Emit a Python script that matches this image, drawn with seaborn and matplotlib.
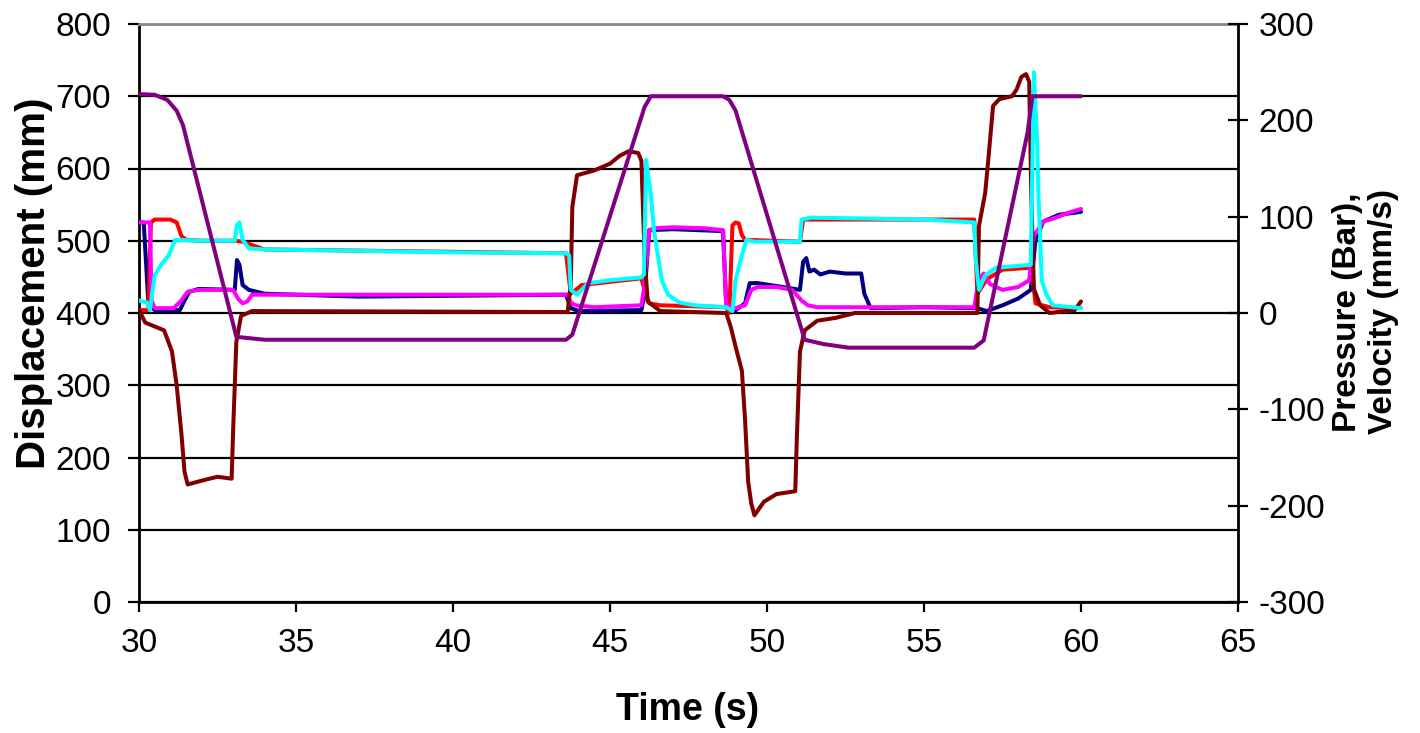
import matplotlib
matplotlib.use("Agg")
import matplotlib.pyplot as plt
import seaborn as sns
import pandas as pd

# ---------------- data ----------------
# Displacement (mm) - left axis
disp_t = [30.0, 30.5, 30.9, 31.2, 31.4, 33.1, 34.0, 43.6, 43.8, 46.1, 46.3, 48.6, 48.8,
          49.0, 51.2, 51.8, 52.6, 56.6, 56.9, 58.3, 58.45, 60.0]
disp_v = [703, 702, 695, 680, 660, 367, 363, 363, 370, 685, 700, 700, 695,
          680, 363, 357, 352, 352, 362, 650, 700, 700]

# Velocity (mm/s) - right axis (dark red)
vel_t = [30.0, 30.2, 30.8, 31.05, 31.2, 31.35, 31.45, 31.55, 32.0, 32.5, 32.95, 33.0,
         33.1, 33.25, 33.6, 43.65, 43.75, 43.8, 43.95, 44.5, 45.0, 45.3, 45.6, 45.9,
         46.0, 46.1, 46.2, 46.6, 48.7, 48.85, 49.0, 49.2, 49.3, 49.4, 49.5, 49.6,
         49.9, 50.3, 50.9, 50.95, 51.05, 51.2, 51.6, 52.2, 52.8, 56.7, 56.75, 56.95,
         57.05, 57.2, 57.4, 57.8, 57.95, 58.1, 58.25, 58.35, 58.42, 58.5, 58.7, 59.0,
         59.8, 60.0]
vel_v = [3, -10, -18, -40, -75, -125, -165, -178, -174, -170, -172, -120,
         -30, -3, 2, 1, 30, 110, 143, 148, 155, 163, 168, 166,
         158, 60, 12, 2, 0, -15, -35, -60, -110, -175, -198, -210,
         -196, -188, -185, -130, -40, -18, -8, -5, 0, 0, 90, 125,
         160, 215, 222, 225, 232, 245, 248, 240, 120, 25, 8, 0,
         3, 12]

# Pressure (Bar) - cyan
cyan_t = [30.0, 30.25, 30.35, 30.5, 30.7, 30.95, 31.15, 32.0, 33.05, 33.12, 33.2, 33.3,
          33.5, 34.0, 36.0, 40.0, 43.6, 43.7, 43.75, 43.95, 44.3, 45.0, 46.0, 46.08,
          46.15, 46.3, 46.4, 46.5, 46.65, 46.85, 47.2, 47.7, 48.7, 48.9, 49.0, 49.2,
          49.35, 49.6, 50.3, 51.05, 51.1, 51.4, 55.0, 56.6, 56.65, 56.75, 56.95, 57.3,
          58.4, 58.5, 58.6, 58.65, 58.75, 58.9, 59.1, 60.0]
cyan_v = [13, 11, 3, 39, 50, 60, 76, 75, 75, 91, 94, 76,
          67, 66, 65, 63, 62, 60, 24, 19, 31, 34, 37, 40,
          159, 123, 86, 65, 34, 19, 11, 8, 6, 2, 34, 60,
          76, 74, 74, 74, 97, 99, 97, 94, 55, 24, 39, 47,
          50, 250, 180, 117, 34, 19, 8, 5]

# Pressure (Bar) - red
red_t = [30.0, 30.3, 30.38, 30.5, 31.0, 31.2, 31.35, 31.5, 32.0, 33.05, 33.3, 34.0,
         43.6, 43.75, 44.1, 46.0, 46.1, 46.25, 46.6, 48.7, 48.8, 48.9, 49.0, 49.1,
         49.2, 49.3, 51.05, 51.15, 56.6, 56.7, 57.0, 57.5, 58.4, 58.45, 58.55, 59.0,
         60.0]
red_v = [3, 3, 94, 97, 97, 94, 80, 76, 75, 75, 74, 66,
         62, 20, 29, 36, 24, 10, 8, 6, 0, 91, 94, 93,
         81, 76, 74, 97, 97, 20, 35, 45, 47, 40, 10, 6,
         5]

# Pressure (Bar) - magenta
mag_t = [30.0, 30.35, 30.4, 30.5, 31.1, 31.35, 31.55, 31.9, 33.0, 33.15, 33.3, 33.45,
         33.6, 43.65, 43.75, 43.9, 44.5, 46.0, 46.1, 46.25, 46.4, 47.0, 48.0, 48.6,
         48.7, 49.0, 49.3, 49.5, 49.7, 50.3, 50.8, 51.1, 51.3, 51.6, 56.6, 56.75,
         56.9, 57.1, 57.5, 58.0, 58.35, 58.5, 58.8, 59.2, 59.6, 60.0]
mag_v = [94, 94, 13, 5, 5, 13, 22, 24, 24, 15, 10, 12,
         19, 19, 11, 8, 6, 8, 29, 86, 88, 89, 88, 86,
         8, 5, 8, 24, 27, 27, 24, 13, 8, 6, 6, 35,
         41, 30, 24, 27, 34, 80, 95, 99, 104, 108]

# Pressure (Bar) - navy
navy_t = [30.0, 30.15, 30.3, 30.5, 31.3, 31.45, 31.6, 31.9, 33.05, 33.12, 33.2, 33.3,
          33.5, 34.0, 37.0, 43.6, 43.75, 44.0, 46.0, 46.1, 46.25, 47.0, 48.6, 48.7,
          49.0, 49.3, 49.45, 49.7, 50.5, 51.05, 51.15, 51.25, 51.35, 51.5, 51.7, 52.0,
          52.5, 53.0, 53.1, 53.3, 55.0, 56.7, 57.0, 57.5, 58.0, 58.4, 58.55, 58.8,
          59.3, 60.0]
navy_v = [94, 94, 10, 3, 3, 13, 22, 25, 24, 55, 50, 29,
          24, 20, 17, 19, 5, 2, 3, 20, 86, 87, 85, 10,
          3, 10, 31, 31, 27, 24, 53, 57, 43, 45, 40, 43,
          41, 41, 20, 5, 6, 5, 2, 8, 15, 24, 76, 95,
          102, 105]

x_ticks = [30, 35, 40, 45, 50, 55, 60, 65]
left_ticks = [0, 100, 200, 300, 400, 500, 600, 700, 800]
right_ticks = [-300, -200, -100, 0, 100, 200, 300]

# ---------------- style ----------------
sns.set_style("white")
plt.rcParams["font.family"] = ["Liberation Sans", "DejaVu Sans"]
plt.rcParams["axes.unicode_minus"] = False
for k in ["text.color", "axes.labelcolor", "xtick.color", "ytick.color"]:
    plt.rcParams[k] = "black"

fig = plt.figure(figsize=(14.2, 7.33), dpi=100)
ax = fig.add_axes([139 / 1420, 1 - 602 / 733, (1238 - 139) / 1420, (602 - 24) / 733])
ax2 = ax.twinx()

LW = 2.9
series = [
    (navy_t, navy_v, "#000080"),
    (red_t, red_v, "#FF0000"),
    (mag_t, mag_v, "#FF00FF"),
    (vel_t, vel_v, "#800000"),
    (cyan_t, cyan_v, "#00FFFF"),
]
for t, v, c in series:
    df = pd.DataFrame({"t": t, "v": v})
    sns.lineplot(data=df, x="t", y="v", ax=ax2, color=c, lw=LW,
                 estimator=None, sort=False)

# displacement on left scale, drawn on top
ddf = pd.DataFrame({"t": disp_t, "v": disp_v})
sns.lineplot(data=ddf, x="t", y="v", ax=ax2, color="#800080", lw=LW,
             estimator=None, sort=False, transform=ax.transData)

# ---------------- axes ----------------
ax.set_xlim(30, 65)
ax.set_ylim(0, 800)
ax2.set_xlim(30, 65)
ax2.set_ylim(-300, 300)

ax.set_xticks(x_ticks)
ax.set_xticklabels([str(x) for x in x_ticks])
ax.set_yticks(left_ticks)
ax.set_yticklabels([str(y) for y in left_ticks])
ax2.set_yticks(right_ticks)
ax2.set_yticklabels([str(y) for y in right_ticks])

ax.yaxis.grid(True, color="black", lw=1.6)
ax.xaxis.grid(False)
ax.set_axisbelow(True)

for sp in ["left", "bottom"]:
    ax.spines[sp].set_color("black")
    ax.spines[sp].set_linewidth(2)
ax.spines["right"].set_visible(False)
ax.spines["top"].set_color("#888888")
ax.spines["top"].set_linewidth(2)
for sp in ["left", "bottom", "top"]:
    ax2.spines[sp].set_visible(False)
ax2.spines["right"].set_color("black")
ax2.spines["right"].set_linewidth(2)

tick_font = 24
ax.tick_params(axis="y", which="major", direction="out", length=8, width=1.6,
               color="black", labelcolor="black", labelsize=tick_font, pad=12, left=True)
ax.tick_params(axis="x", which="major", direction="out", length=7, width=1.6,
               color="black", labelcolor="black", labelsize=tick_font, pad=12, bottom=True)
ax2.tick_params(axis="y", which="major", direction="inout", length=14, width=1.6,
                color="black", labelcolor="black", labelsize=tick_font, pad=8, right=True)

ax2.set_xlabel("")
ax.set_xlabel("Time (s)", fontsize=27, fontweight="bold", color="black")
ax.xaxis.set_label_coords((688 - 139) / 1099, -0.155)

ax.set_ylabel("Displacement (mm)", fontsize=29, fontweight="bold", color="black")
ax.yaxis.set_label_coords(-0.078, 0.552)

ax2.set_ylabel("Pressure (Bar),\nVelocity (mm/s)", fontsize=24, fontweight="bold",
               color="black", rotation=90, va="top")
ax2.yaxis.set_label_coords(1.0855, 0.502)

fig.savefig("out.png", dpi=100, facecolor="white")
